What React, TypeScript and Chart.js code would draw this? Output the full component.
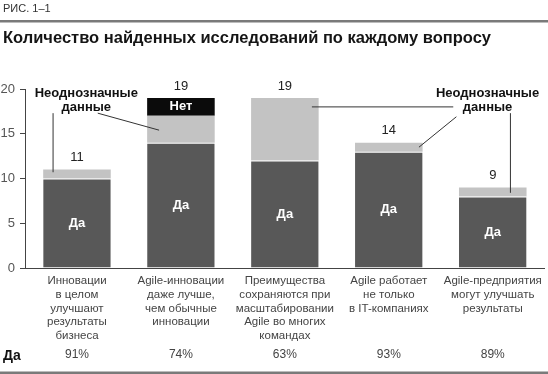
import React, { useEffect, useRef } from "react";
import { Chart, registerables } from "chart.js";

Chart.register(...registerables);

const categories: string[][] = [
  ["Инновации", "в целом", "улучшают", "результаты", "бизнеса"],
  ["Agile-инновации", "даже лучше,", "чем обычные", "инновации"],
  ["Преимущества", "сохраняются при", "масштабировании", "Agile во многих", "командах"],
  ["Agile работает", "не только", "в IT-компаниях"],
  ["Agile-предприятия", "могут улучшать", "результаты"],
];
const yesValues = [10, 14, 12, 13, 8];
const mixedValues = [1, 3, 7, 1, 1];
const noValues: (number | null)[] = [null, 2, null, null, null];
const totals = [11, 19, 19, 14, 9];
const yesShare = ["91%", "74%", "63%", "93%", "89%"];
const yTicks = [0, 5, 10, 15, 20];

const FONT = "'Liberation Sans', Arial, Helvetica, sans-serif";
const DARK = "#585858";
const LIGHT = "#c3c3c3";
const BLACK = "#0b0b0b";

// leader lines in data space: [catIndexFrom, valueFrom, catIndexTo, valueTo]
const leaderLines: number[][] = [
  [-0.23, 17.3, -0.23, 10.7],
  [0.2, 17.3, 0.79, 15.4],
  [2.26, 18.0, 3.62, 18.0],
  [3.65, 16.9, 3.29, 13.5],
  [4.17, 17.3, 4.17, 8.4],
];
// annotation label positions: [catIndex, value]
const noteLabels: number[][] = [
  [0.09, 19.55],
  [3.95, 19.55],
];
const noteText = ["Неоднозначные", "данные"];

const overlay = {
  id: "overlay",
  afterDraw(chart: any) {
    const ctx = chart.ctx as CanvasRenderingContext2D;
    const xs = chart.scales.x;
    const ys = chart.scales.y;
    const W = chart.width;
    const H = chart.height;
    const xAt = (i: number) => {
      const base = Math.floor(i);
      const frac = i - base;
      const p0 = xs.getPixelForValue(base);
      const step = xs.getPixelForValue(1) - xs.getPixelForValue(0);
      return p0 + frac * step;
    };
    ctx.save();
    // header
    ctx.fillStyle = "#333";
    ctx.font = `11px ${FONT}`;
    ctx.textBaseline = "middle";
    ctx.textAlign = "left";
    ctx.fillText("РИС. 1–1", 3, 9);
    ctx.fillStyle = "#7a7a7a";
    ctx.fillRect(0, 20, W, 2.5);
    ctx.fillStyle = "#151515";
    ctx.font = `bold 16.5px ${FONT}`;
    ctx.textBaseline = "alphabetic";
    ctx.fillText("Количество найденных исследований по каждому вопросу", 3, 43);
    ctx.textBaseline = "middle";

    // totals
    ctx.textAlign = "center";
    ctx.font = `13px ${FONT}`;
    ctx.fillStyle = "#222";
    totals.forEach((t, i) => {
      ctx.fillText(String(t), xs.getPixelForValue(i), ys.getPixelForValue(t) - 12);
    });
    // inside labels
    ctx.fillStyle = "#fff";
    ctx.font = `bold 13px ${FONT}`;
    yesValues.forEach((v, i) => {
      ctx.fillText("Да", xs.getPixelForValue(i), ys.getPixelForValue(v / 2));
    });
    noValues.forEach((v, i) => {
      if (v) {
        const base = yesValues[i] + mixedValues[i];
        ctx.fillText("Нет", xs.getPixelForValue(i), ys.getPixelForValue(base + v / 2));
      }
    });
    // leader lines
    ctx.strokeStyle = "#333";
    ctx.lineWidth = 1;
    leaderLines.forEach(([a, b, c, d]) => {
      ctx.beginPath();
      ctx.moveTo(xAt(a), ys.getPixelForValue(b));
      ctx.lineTo(xAt(c), ys.getPixelForValue(d));
      ctx.stroke();
    });
    // annotation labels
    ctx.fillStyle = "#111";
    ctx.font = `bold 13px ${FONT}`;
    noteLabels.forEach(([ci, v]) => {
      const x = xAt(ci);
      const y = ys.getPixelForValue(v);
      ctx.fillText(noteText[0], x, y);
      ctx.fillText(noteText[1], x, y + 14);
    });
    // bottom row
    ctx.textAlign = "left";
    ctx.fillStyle = "#111";
    ctx.font = `bold 14px ${FONT}`;
    ctx.fillText("Да", 3, 356);
    ctx.textAlign = "center";
    ctx.fillStyle = "#444";
    ctx.font = `12px ${FONT}`;
    yesShare.forEach((s, i) => {
      ctx.fillText(s, xs.getPixelForValue(i), 355);
    });
    ctx.fillStyle = "#7a7a7a";
    ctx.fillRect(0, H - 2.5, W, 2.5);
    ctx.restore();
  },
};

export default function App() {
  const ref = useRef<HTMLCanvasElement>(null);
  useEffect(() => {
    if (!ref.current) return;
    const chart = new Chart(ref.current, {
      type: "bar",
      data: {
        labels: categories,
        datasets: [
          {
            label: "Да",
            data: yesValues,
            backgroundColor: DARK,
            borderColor: "#ffffff",
            borderWidth: { top: 1, left: 0, right: 0, bottom: 0 },
            borderSkipped: false,
          },
          {
            label: "Неоднозначные данные",
            data: mixedValues,
            backgroundColor: LIGHT,
            borderWidth: 0,
          },
          {
            label: "Нет",
            data: noValues,
            backgroundColor: BLACK,
            borderWidth: 0,
          },
        ],
      },
      options: {
        animation: false,
        responsive: false,
        maintainAspectRatio: false,
        layout: { padding: { top: 89, left: 0, right: 2, bottom: 0 } },
        plugins: { legend: { display: false }, tooltip: { enabled: false }, title: { display: false } },
        datasets: { bar: { barPercentage: 1, categoryPercentage: 0.65 } },
        scales: {
          x: {
            stacked: true,
            grid: { display: false, drawTicks: false },
            border: { display: true, color: "#444", width: 1 },
            ticks: {
              color: "#444",
              font: { family: FONT, size: 11.5, lineHeight: 1.2 },
              padding: 6,
              maxRotation: 0,
              autoSkip: false,
            },
            afterFit: (s: any) => {
              s.height = 106;
            },
          },
          y: {
            stacked: true,
            min: 0,
            max: 20,
            afterBuildTicks: (s: any) => {
              s.ticks = yTicks.map((v) => ({ value: v }));
            },
            grid: { drawOnChartArea: false, drawTicks: true, tickLength: 5, color: "#444" },
            border: { display: true, color: "#444", width: 1 },
            ticks: { color: "#555", font: { family: FONT, size: 13 }, padding: 5 },
            afterFit: (s: any) => {
              s.width = 25;
            },
          },
        },
      },
      plugins: [overlay],
    });
    return () => chart.destroy();
  }, []);
  return (
    <div style={{ position: "fixed", left: 0, top: 0, width: 548, height: 374, background: "#fff" }}>
      <canvas ref={ref} width={548} height={374} style={{ display: "block", width: 548, height: 374 }} />
    </div>
  );
}
